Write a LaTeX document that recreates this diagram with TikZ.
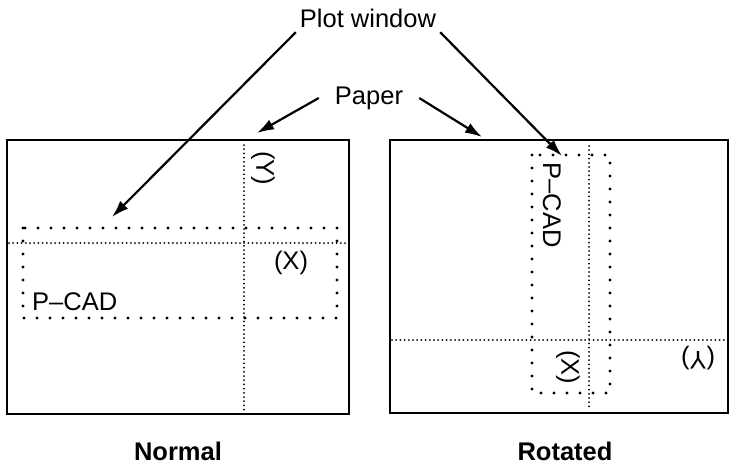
\documentclass[tikz,border=0pt]{standalone}
\usepackage{fontspec}
\setmainfont{Liberation Sans}
\usetikzlibrary{arrows.meta}
\tikzset{
  sheet/.style={draw, line width=2pt, inner sep=0pt, outer sep=0pt},
  win/.style={line width=3.4pt, line cap=round, dash pattern=on 0pt off 13pt},
  axis/.style={line width=2pt, line cap=round, dash pattern=on 0pt off 4.2pt},
  lbl/.style={font=\fontsize{25.5}{30}\selectfont, inner sep=0pt},
  ptr/.style={-{Latex[length=17pt,width=11pt]}, line width=2.2pt},
}
\begin{document}
\begin{tikzpicture}[x=1pt,y=-1pt]
   \useasboundingbox (0,0) rectangle (734,466);

   \node (PW) [lbl, inner sep=4pt] at (368,18.7) {Plot window};
   \node (PA) [lbl, inner xsep=16pt] at (369,98) {Paper};

   % normal
   \node (N) [sheet, minimum width=342pt, minimum height=274pt] at (178,277) {};
   \draw[axis] (9,243) -- (348,243);
   \draw[axis] (244,145) -- (244,411);
   \draw[win] (23,228) rectangle (337,318);
   \node (NY) [lbl, rotate=-90] at (263,168) {(Y)};
   \node (NX) [lbl] at (291,263) {(X)};
   \node (NP) [lbl, anchor=west] at (32,302) {P–CAD};
   \node (NL) [lbl, font=\fontsize{25.5}{30}\selectfont\bfseries] at (178,451) {Normal};

   % rotated
   \node (R) [sheet, minimum width=338pt, minimum height=273pt] at (559,276.5) {};
   \draw[axis] (392,340) -- (726,340);
   \draw[axis] (589,146) -- (589,409);
   \draw[win] (532,155) rectangle (610,393);
   \node (RP) [lbl, rotate=-90] at (552,205) {P–CAD};
   \node (RX) [lbl, rotate=-90] at (568,367) {(X)};
   \node (RY) [lbl, rotate=180] at (698,358) {(Y)};
   \node (RL) [lbl, font=\fontsize{25.5}{30}\selectfont\bfseries] at (565,451) {Rotated};

   \coordinate (WN) at (112,217);
   \coordinate (WR) at (562,156);
   \coordinate (SN) at (257,133);
   \coordinate (SR) at (482,137);

   \path[ptr]
     (PW.south west) edge (WN)
     (PW.south east) edge (WR)
     (PA.west)       edge (SN)
     (PA.east)       edge (SR);
\end{tikzpicture}
\end{document}
